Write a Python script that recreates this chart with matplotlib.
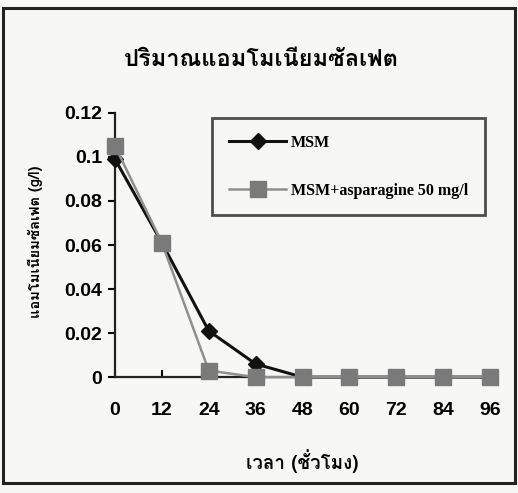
import matplotlib
matplotlib.use("Agg")
import matplotlib.pyplot as plt
from matplotlib import font_manager
from matplotlib.ft2font import FT2Font
from matplotlib.patches import Rectangle

# sampling times (hours) and ammonium sulfate remaining (g/l)
hours = [0, 12, 24, 36, 48, 60, 72, 84, 96]
msm = [0.099, 0.061, 0.021, 0.006, 0.0, 0.0, 0.0, 0.0, 0.0]
msm_asn = [0.105, 0.061, 0.003, 0.0, 0.0, 0.0, 0.0, 0.0, 0.0]
series_names = ["MSM", "MSM+asparagine 50 mg/l"]

title = "ปริมาณแอมโมเนียมซัลเฟต"
xlabel = "เวลา (ชั่วโมง)"
ylabel = "แอมโมเนียมซัลเฟต (g/l)"


def thai_family():
    # first installed font that actually has Thai glyphs
    for f in font_manager.fontManager.ttflist:
        try:
            if 0x0E1B in FT2Font(f.fname).get_charmap():
                return f.name
        except Exception:
            continue
    return "DejaVu Sans"


thai = [thai_family(), "DejaVu Sans"]

fig = plt.figure(figsize=(5.18, 4.93), dpi=100)
fig.patch.set_facecolor("#f7f7f5")
fig.add_artist(Rectangle((0.006, 0.0203), 0.988, 0.963, transform=fig.transFigure,
                         fill=False, lw=2.2, ec="#222222"))

ax = fig.add_axes([0.222, 0.235, 0.724, 0.536])
ax.set_facecolor("none")
ax.plot(hours, msm, "-D", color="#111111", lw=2.2, ms=8, mfc="#111111",
        label=series_names[0], clip_on=False, zorder=3)
ax.plot(hours, msm_asn, "-s", color="#8f8f8f", lw=1.8, ms=11, mfc="#7a7a7a",
        mec="#7a7a7a", label=series_names[1], clip_on=False, zorder=4)

ax.set_xlim(0, 96)
ax.set_ylim(0, 0.12)
ax.set_xticks(hours)
ax.set_yticks([0, 0.02, 0.04, 0.06, 0.08, 0.1, 0.12])
ax.set_yticklabels(["0", "0.02", "0.04", "0.06", "0.08", "0.1", "0.12"])
for s in ("top", "right"):
    ax.spines[s].set_visible(False)
for s in ("left", "bottom"):
    ax.spines[s].set_linewidth(1.6)
    ax.spines[s].set_color("#222222")
ax.tick_params(axis="y", direction="out", length=5, width=1.5, pad=4)
ax.tick_params(axis="x", direction="in", length=5, width=1.5, pad=18)
for lab in ax.get_xticklabels() + ax.get_yticklabels():
    lab.set_fontfamily("Liberation Sans")
    lab.set_fontweight("bold")
    lab.set_fontsize(14)

fig.text(261 / 518, 1 - 60 / 493, title, family=thai, fontsize=17,
         fontweight="bold", ha="center", va="center")
ax.set_xlabel(xlabel, family=thai, fontsize=13.5, fontweight="bold", va="center")
ax.xaxis.set_label_coords(0.5, -0.318)
ax.set_ylabel(ylabel, family=thai, fontsize=10.5, fontweight="bold", va="center")
ax.yaxis.set_label_coords(-0.213, 0.511)

leg = ax.legend(loc="upper left", bbox_to_anchor=(0.259, 0.981), frameon=True,
                fancybox=False, edgecolor="#222222", facecolor="none",
                prop={"family": "Liberation Serif", "weight": "bold", "size": 11.5},
                handlelength=3.6, borderpad=1.05, labelspacing=2.0,
                handletextpad=0.3, borderaxespad=0)
leg.get_frame().set_linewidth(2.0)

fig.savefig("out.png", dpi=100, facecolor=fig.get_facecolor())
